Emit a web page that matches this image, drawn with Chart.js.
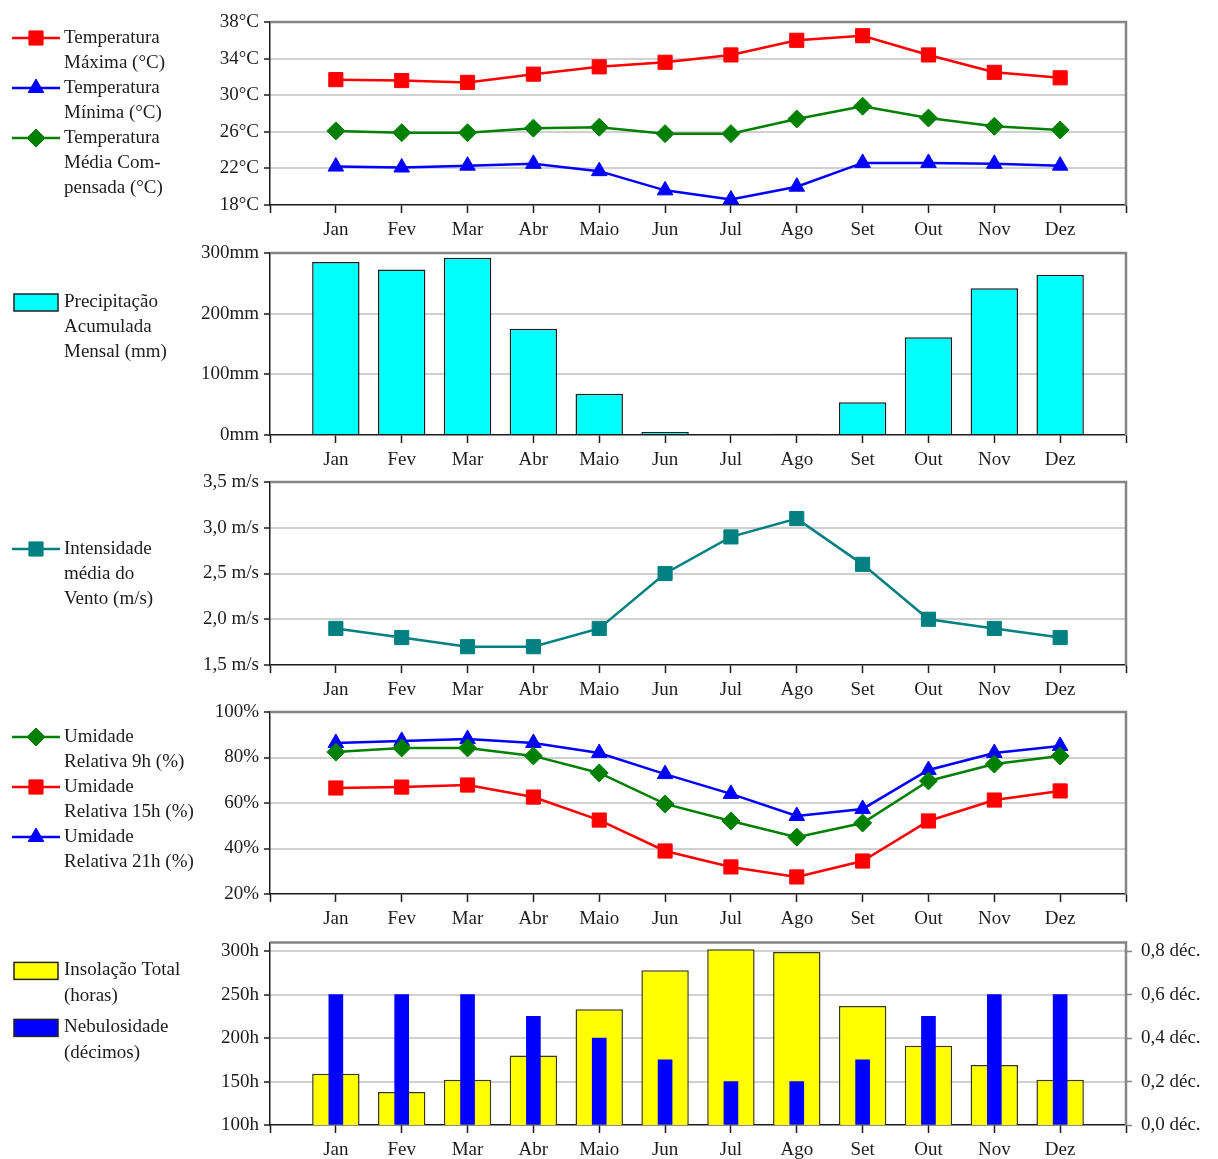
<!DOCTYPE html>
<html lang="pt">
<head>
<meta charset="utf-8">
<title>Normais climatológicas</title>
<script src="https://cdn.jsdelivr.net/npm/chart.js@4/dist/chart.umd.min.js"></script>
<style>
  html, body { margin: 0; padding: 0; background: #fff; width: 1218px; height: 1159px; overflow: hidden; }
  canvas { position: absolute; left: 0; }
</style>
</head>
<body>
<canvas id="cTemp" width="1218" height="246"></canvas>
<canvas id="cPrec" width="1218" height="246"></canvas>
<canvas id="cVento" width="1218" height="246"></canvas>
<canvas id="cUmid" width="1218" height="246"></canvas>
<canvas id="cInsol" width="1218" height="246"></canvas>
<script>
// ---- dados mensais ----
const months = ['Jan', 'Fev', 'Mar', 'Abr', 'Maio', 'Jun', 'Jul', 'Ago', 'Set', 'Out', 'Nov', 'Dez'];

const tempMax = [31.7, 31.6, 31.4, 32.3, 33.1, 33.6, 34.4, 36.0, 36.5, 34.4, 32.5, 31.9];
const tempMin = [22.2, 22.1, 22.3, 22.5, 21.7, 19.6, 18.6, 20.0, 22.6, 22.6, 22.5, 22.3];
const tempMed = [26.1, 25.9, 25.9, 26.4, 26.5, 25.8, 25.8, 27.4, 28.8, 27.5, 26.6, 26.2];

const precip = [285, 273, 292, 175, 68, 5, 0, 2, 54, 161, 242, 264];

const vento = [1.9, 1.8, 1.7, 1.7, 1.9, 2.5, 2.9, 3.1, 2.6, 2.0, 1.9, 1.8];

const umid9h  = [82.4, 84.2, 84.2, 80.7, 73.2, 59.6, 52.1, 45.0, 51.2, 69.7, 77.1, 80.7];
const umid15h = [66.6, 67.0, 67.9, 62.6, 52.5, 38.9, 31.9, 27.5, 34.5, 52.1, 61.3, 65.3];
const umid21h = [86.4, 87.3, 88.1, 86.4, 82.0, 72.7, 64.0, 54.3, 57.4, 74.5, 82.0, 85.1];

const insolacao = [159, 138, 152, 180, 233, 278, 302, 299, 237, 191, 169, 152];
const nebulosidade = [0.6, 0.6, 0.6, 0.5, 0.4, 0.3, 0.2, 0.2, 0.3, 0.5, 0.6, 0.6];

// ---- textos da legenda (uma entrada por linha) ----
const lgTempMax = ['Temperatura', 'Máxima (°C)'];
const lgTempMin = ['Temperatura', 'Mínima (°C)'];
const lgTempMed = ['Temperatura', 'Média Com-', 'pensada (°C)'];
const lgPrecip = ['Precipitação', 'Acumulada', 'Mensal (mm)'];
const lgVento = ['Intensidade', 'média do', 'Vento (m/s)'];
const lgUmid9 = ['Umidade', 'Relativa 9h (%)'];
const lgUmid15 = ['Umidade', 'Relativa 15h (%)'];
const lgUmid21 = ['Umidade', 'Relativa 21h (%)'];
const lgInsol = ['Insolação Total', '(horas)'];
const lgNebul = ['Nebulosidade', '(décimos)'];

// ---- estilo comum ----
const FAMILY = "'Liberation Serif', 'Times New Roman', serif";
const FONT = { family: FAMILY, size: 19 };
const INK = '#1c1c1c';
const FRAME = '#858585';
const GRID = '#d0d0d0';
const CANVAS_H = 246;
const TOP_PAD = 20;      // margem acima da área de plotagem dentro de cada canvas
const AXIS_LEFT = 270;
const RIGHT_GAP = 92;

// categorias com uma posição vazia em cada extremidade do eixo
const xLabels = ['', ...months, ''];
const pad = a => [null, ...a, null];

const decimal = v => Number(v).toFixed(1).replace('.', ',');

// moldura cinza (topo e lado direito) da área de plotagem
const framePlugin = {
  id: 'frame',
  afterDatasetsDraw(chart) {
    const { ctx, chartArea: a } = chart;
    ctx.save();
    ctx.strokeStyle = FRAME;
    ctx.lineWidth = 2.5;
    ctx.beginPath();
    ctx.moveTo(a.left, a.top);
    ctx.lineTo(a.right, a.top);
    ctx.lineTo(a.right, a.bottom);
    ctx.stroke();
    ctx.restore();
  }
};

// legenda lateral desenhada à esquerda do gráfico
const sideLegendPlugin = {
  id: 'sideLegend',
  afterDraw(chart, args, opts) {
    if (!opts || !opts.items) return;
    const ctx = chart.ctx;
    const lh = opts.lineHeight || 25;
    let y = chart.chartArea.top + opts.dy;
    ctx.save();
    ctx.font = `${FONT.size}px ${FAMILY}`;
    ctx.textBaseline = 'middle';
    ctx.textAlign = 'left';
    chart.data.datasets.forEach((ds, i) => {
      const lines = opts.items[i];
      if (opts.kind === 'bar') {
        ctx.fillStyle = ds.backgroundColor;
        ctx.fillRect(14, y - 8, 44, 17);
        ctx.strokeStyle = '#222';
        ctx.lineWidth = 1.5;
        ctx.strokeRect(14, y - 8, 44, 17);
      } else {
        ctx.strokeStyle = ds.borderColor;
        ctx.lineWidth = 2.5;
        ctx.beginPath();
        ctx.moveTo(12, y);
        ctx.lineTo(60, y);
        ctx.stroke();
        ctx.fillStyle = ds.pointBackgroundColor;
        ctx.lineWidth = 1;
        Chart.helpers.drawPoint(ctx, {
          pointStyle: ds.pointStyle, radius: ds.pointRadius, rotation: 0, borderWidth: 1
        }, 36, y);
      }
      ctx.fillStyle = INK;
      lines.forEach((t, k) => ctx.fillText(t, 64, y + k * lh));
      y += lines.length * lh + (opts.itemGap || 0);
    });
    ctx.restore();
  }
};

function xAxis(plotH) {
  return {
    type: 'category',
    offset: false,
    grid: {
      offset: false, drawOnChartArea: false, drawTicks: true,
      tickLength: 8, color: INK, tickWidth: 1.5
    },
    border: { display: true, color: INK, width: 1.5 },
    ticks: { color: INK, font: FONT, padding: 6, autoSkip: false, maxRotation: 0 },
    afterFit(s) { s.height = CANVAS_H - TOP_PAD - plotH; }
  };
}

function yAxis(min, max, step, fmt) {
  return {
    min, max,
    ticks: { stepSize: step, color: INK, font: FONT, padding: 5, includeBounds: false, callback: fmt },
    grid: {
      color: c => (c.tick && (c.tick.value === min || c.tick.value >= max)) ? 'rgba(0,0,0,0)' : GRID,
      lineWidth: 2, tickColor: INK, tickLength: 6, tickWidth: 1.5
    },
    border: { display: true, color: INK, width: 1.5 },
    afterFit(s) { s.width = AXIS_LEFT; }
  };
}

function lineDs(label, data, color, style, radius) {
  return {
    label, data: pad(data), borderColor: color, backgroundColor: color,
    pointBackgroundColor: color, pointBorderColor: color,
    pointStyle: style, pointRadius: radius, pointHoverRadius: radius,
    borderWidth: 2.5, pointBorderWidth: 1, tension: 0, spanGaps: false
  };
}

function baseOptions(legend, extraLayout) {
  return {
    responsive: false,
    animation: false,
    events: [],
    layout: { padding: Object.assign({ top: TOP_PAD, left: 0, right: RIGHT_GAP, bottom: 0 }, extraLayout || {}) },
    plugins: {
      legend: { display: false },
      tooltip: { enabled: false },
      sideLegend: legend
    }
  };
}

function place(id, plotTop) {
  const el = document.getElementById(id);
  el.style.top = (plotTop - TOP_PAD) + 'px';
  return el;
}

// ---- 1. Temperaturas ----
(function () {
  const top = 22, plotH = 183;
  const opts = baseOptions({ dy: 16, lineHeight: 25, items: [lgTempMax, lgTempMin, lgTempMed] });
  opts.scales = { x: xAxis(plotH), y: yAxis(18, 38, 4, v => v + '°C') };
  new Chart(place('cTemp', top), {
    type: 'line',
    data: {
      labels: xLabels,
      datasets: [
        lineDs(lgTempMax.join(' '), tempMax, '#ff0000', 'rect', 10),
        lineDs(lgTempMin.join(' '), tempMin, '#0000ff', 'triangle', 9),
        lineDs(lgTempMed.join(' '), tempMed, '#008000', 'rectRot', 9)
      ]
    },
    options: opts,
    plugins: [framePlugin, sideLegendPlugin]
  });
})();

// ---- 2. Precipitação ----
(function () {
  const top = 253, plotH = 182;
  const opts = baseOptions({ kind: 'bar', dy: 49, lineHeight: 25, items: [lgPrecip] });
  opts.scales = { x: xAxis(plotH), y: yAxis(0, 300, 100, v => v + 'mm') };
  new Chart(place('cPrec', top), {
    type: 'bar',
    data: {
      labels: xLabels,
      datasets: [{
        label: lgPrecip.join(' '), data: pad(precip),
        backgroundColor: '#00ffff', borderColor: '#1a1a1a', borderWidth: 1.5,
        categoryPercentage: 1, barPercentage: 0.72
      }]
    },
    options: opts,
    plugins: [framePlugin, sideLegendPlugin]
  });
})();

// ---- 3. Vento ----
(function () {
  const top = 482, plotH = 183;
  const opts = baseOptions({ dy: 67, lineHeight: 25, items: [lgVento] });
  opts.scales = { x: xAxis(plotH), y: yAxis(1.5, 3.5, 0.5, v => decimal(v) + ' m/s') };
  new Chart(place('cVento', top), {
    type: 'line',
    data: {
      labels: xLabels,
      datasets: [lineDs(lgVento.join(' '), vento, '#008080', 'rect', 10)]
    },
    options: opts,
    plugins: [framePlugin, sideLegendPlugin]
  });
})();

// ---- 4. Umidade relativa ----
(function () {
  const top = 712, plotH = 182;
  const opts = baseOptions({ dy: 25, lineHeight: 25, items: [lgUmid9, lgUmid15, lgUmid21] });
  opts.scales = { x: xAxis(plotH), y: yAxis(20, 100, 20, v => v + '%') };
  new Chart(place('cUmid', top), {
    type: 'line',
    data: {
      labels: xLabels,
      datasets: [
        lineDs(lgUmid9.join(' '), umid9h, '#008000', 'rectRot', 9),
        lineDs(lgUmid15.join(' '), umid15h, '#ff0000', 'rect', 10),
        lineDs(lgUmid21.join(' '), umid21h, '#0000ff', 'triangle', 9)
      ]
    },
    options: opts,
    plugins: [framePlugin, sideLegendPlugin]
  });
})();

// ---- 5. Insolação e nebulosidade ----
(function () {
  const top = 942, plotH = 183;
  const opts = baseOptions({ kind: 'bar', dy: 28, lineHeight: 26, itemGap: 5, items: [lgInsol, lgNebul] }, { right: 0 });
  opts.scales = {
    x: xAxis(plotH),
    y: yAxis(100, 310, 50, v => v + 'h'),
    y1: {
      position: 'right', min: 0, max: 0.84,
      ticks: { stepSize: 0.2, includeBounds: false, color: INK, font: FONT, padding: 9, callback: v => decimal(v) + ' déc.' },
      grid: { drawOnChartArea: false, drawTicks: true, tickLength: 6, color: FRAME, tickWidth: 1.5 },
      border: { display: true, color: FRAME, width: 2 },
      afterFit(s) { s.width = RIGHT_GAP; }
    }
  };
  new Chart(place('cInsol', top), {
    type: 'bar',
    data: {
      labels: xLabels,
      datasets: [
        {
          label: lgInsol.join(' '), data: pad(insolacao), yAxisID: 'y', order: 2, grouped: false,
          backgroundColor: '#ffff00', borderColor: '#3a3a10', borderWidth: 1.5,
          categoryPercentage: 1, barPercentage: 0.72
        },
        {
          label: lgNebul.join(' '), data: pad(nebulosidade), yAxisID: 'y1', order: 1, grouped: false,
          backgroundColor: '#0000ff', borderWidth: 0, barThickness: 14
        }
      ]
    },
    options: opts,
    plugins: [framePlugin, sideLegendPlugin]
  });
})();
</script>
</body>
</html>
